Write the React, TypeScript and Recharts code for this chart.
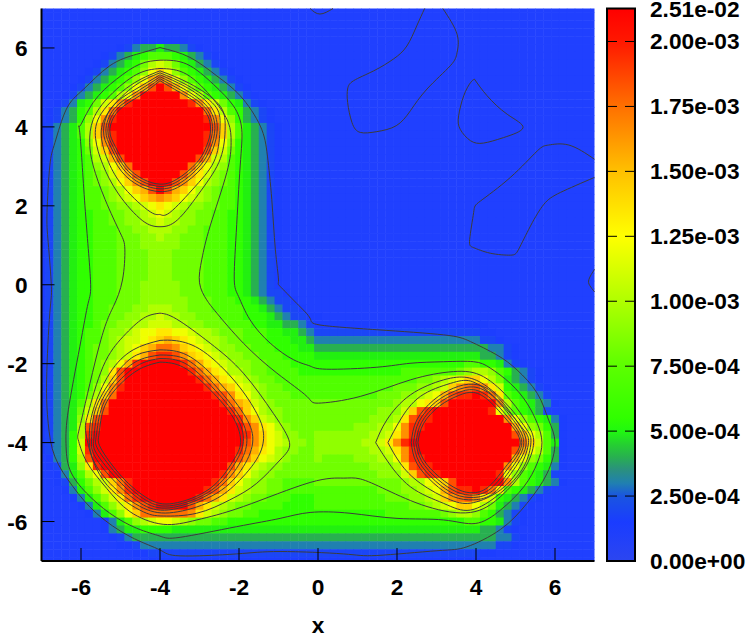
import { Scatter, ScatterChart, XAxis, YAxis, BarChart, Bar, Label } from "recharts";

// one letter per cell, a = 0, b = 1e-4 ... u = 2e-3 and above. Rows run from y=7 down to y=-7, step 0.2
const heatRows = [
  "a",
  "a",
  "a",
  "a",
  "aaaaaaaaaaaabbbbbbb",
  "aaaaaaaaaabcdeefeedcb",
  "aaaaaaaabcdefghhhgfedcb",
  "aaaaaaabcdefgiklkigfedcb",
  "aaaaaabcdefghjmomjhgfedcb",
  "aaaaabcdefghjmprpmjhgfedcb",
  "aaaabcdefghjmpsuspmjhgfedcb",
  "aaabcdefghkmquuuuuqmkhgfedcb",
  "aabcdfgilnqtuuuuuuutqnligfdcb",
  "abcdeghknruuuuuuuuuuurnkhgedcb",
  "abcdegjmqtuuuuuuuuuuutqmjgedcb",
  "bcdefhkosuuuuuuuuuuuuusokhfedcb",
  "bcdefhkortuuuuuuuuuuutrokhfedcb",
  "bcdefgjmqtuuuuuuuuuuutqmjgfedcb",
  "bcdefgilosuuuuuuuuuuusoligfedcb",
  "bcdefghklpsuuuuuuuuusplkhgfedcb",
  "bcdefghjkmoruuuuuuuromkjhgfedcb",
  "bcdefghijlnpsuuuuuspnljihgfedcb",
  "bcdefghijkmoqsuuusqomkjihgfedcb",
  "bcdefghhijkmopsuspomkjihhgfedcb",
  "bcdefghhijklmopqpomlkjihhgfedcb",
  "bcdefghhiijjklmnmlkjjiihhgfedcb",
  "bcdefgghhiijjklmlkjjiihhggfedcb",
  "bcdefgghhiijjkklkkjjiihhggfedcb",
  "bcdefgghhhiijjkkkjjiihhhggfedcb",
  "bcdefgghhhiiijjkjjiiihhhggfedcb",
  "bcdefgghhhiiijjjjjiiihhhggfedcb",
  "bcdefgghhhiiiijjjiiiihhhggfedcb",
  "bcdefgghhhiiiijjjiiiihhhggfedcb",
  "bcdefgghhhiiiijjjiiiihhhggfedcb",
  "bcdefgghhhiiiijjjiiiihhhggfedcb",
  "bcdefgghhhiiijjjjjiiihhhggfedcb",
  "bcdefgghhhiiijjjjjiiihhhggfedccb",
  "bcdefgghhhiiijjjjjjiiihhhggfedccb",
  "bcdefgghhiiijjkkkjjiiihhhhggfedccb",
  "bcdefgghhiijjkklkkjjiiihhhgggfedccbb",
  "bcdefgghiijjkklllkkjjiiihhhggffeedcbbbbbbbbbbbbbbbbbbbbbb",
  "bcdefghhijjklmmnnmmlkkjiiihhhggffedcccccccccccccccccccccbb",
  "bcdefghhijkllmnoponmlkkjiihhhgggffedddddddddddddddddddddccb",
  "bcdefghiijklmoprrqonmlkjjiihhhgggffeeeeeeeeeeeeeeeeeeeeeeddcb",
  "bcdefghiijklnpsttsqonmlkjjiihhhggggfffffffffffffffffffffeedcb",
  "bcdefghijkmptuuuuutrpnmlkjjiihhhgggggggggggggggggggggghhggfdcb",
  "bcdefghijnsuuuuuuuutrpnmkkjiihhhhggggggggggggghhhhhhhijkkjhgedcb",
  "bcdefghikosuuuuuuuuutrpnmlkjiihhhhhhhhhhhhhhhhhhiijklmoomkifedcb",
  "bcdefghjmqtuuuuuuuuuutrpomlkjiihhhhhhhhhhhhhhiiijjkloqrsqnlgfedcb",
  "bcdefgikoruuuuuuuuuuuutsqnmkjiiihhhhhhhhhhhiiijjklmpsttutrnhgfedc",
  "bcdefhknruuuuuuuuuuuuuutrpolkjiiiiiiiiiiiiiiijkkmnosuuuuuuqkhgfedb",
  "bcdefilosuuuuuuuuuuuuuuutromkjjiiiiiiiiiiiijjjlostuuuuuuutmjhgfec",
  "bcdefjnsuuuuuuuuuuuuuuuuutqolkjiiiiiiiiiiijjjknsttuuuuuuuuuqmjhgfdb",
  "bcdefkstuuuuuuuuuuuuuuuuuusqnmkjiiiiiiiijjjkkmqttuuuuuuuuuuupmjigeb",
  "bcdegktuuuuuuuuuuuuuuuuuuutqomljjiijjjjjjjkklnqtuuuuuuuuuuuuspmkheb",
  "bcdegluuuuuuuuuuuuuuuuuuuusqomlkjjijjjjjjkklnqtuuuuuuuuuuuuuurolhfb",
  "bcdegltuuuuuuuuuuuuuuuuuutrpnmkjjiijjjjjjjkklnqtuuuuuuuuuuuuspmkheb",
  "abdegksuuuuuuuuuuuuuuuuuusqomlkjiiijiiiijjjkkmqttuuuuuuuuuuupmjigeb",
  "abcefjntuuuuuuuuuuuuuuuuspnlkjjiiiiiiiiiiijjjknsttuuuuuuuuuqmjhgfdb",
  "aabdfhkmsuuuuuuuuuuuuuutqomkjjiiiiiiiiiiiiijjjlosttuuuuuuutmjhgfec",
  "aabcegiklortuuuuuuuuuutromkjjiihhhhiiiiiiiiiiijkkmnosuuuuuuqkhgfedb",
  "aaabdfhjlnqtuuuuuuuuutspnlkjjiihhhhhhhhhhhhiiijjklmpsttutrnhgfedc",
  "aaaabdfhjlnrtuuuuuuutrpnlkjiihhhggghhhhhhhhhiiijjkloqrsqnlgfedcb",
  "aaaaabdfhjlnqstuuuuspnlkjiihhhhgggghhhhhhhhhhhhiijklmoomkifedcb",
  "aaaaaabdfhjmorrrrrrqnlkjiihhgggggggggggggggghhhhhhhijkkjhgedcb",
  "aaaaaaaabdfhjklmmlkjiihhgggggggggggggggggggggggggggggghhggfdcb",
  "aaaaaaaabdeffgggg" + "fffffffffffffffffffffffffffffffffffffffeedcb",
  "aaaaaaaaabcdeeeeeeeeeeeeeeeeeeeeeeeeeeeeeeeeeeeeeeeeeeeeeeddcb",
  "aaaaaaaaaabbcdddddddddddddddddddddddddddddddddddddddddddddccb",
  "aaaaaaaaaaaabbccccccccccccccccccccccccccccccccccccccccccbb",
  "aaaaaaaaaaaaaabbbbbbbbbbbbbbbbbbbbbbbbbbbbbbbbbbbbbbbbbb",
];

const levelLetters = "abcdefghijklmnopqrstu";
const levelColors = [
  "#2040ff", "#1d3eff", "#1b46f6", "#2080b0", "#28b050", "#22f010", "#30ff00",
  "#50ff00", "#70ff00", "#90ff00", "#b0ff00", "#d0ff00", "#f0ff00", "#ffe800",
  "#ffd000", "#ffb000", "#ff9000", "#ff7000", "#ff5000", "#ff2800", "#ff0000",
];

const xTicks = [-6, -4, -2, 0, 2, 4, 6];
const yTicks = [6, 4, 2, 0, -2, -4, -6];
const corners = [{ x: -7, y: -7 }, { x: 7, y: 7 }];

// contour lines as [x, y]
const outerLine = [[-4,6.01],[-3.24,5.76],[-2.56,5.29],[-1.97,4.79],[-1.46,4.02],[-1.28,3.26],[-1.17,2.16],[-1.08,0.9],[-1,0.12],[-0.96,-0.04],[-0.54,-0.47],[-0.2,-0.85],[0.05,-1.02],[1.49,-1.14],[3.18,-1.27],[3.86,-1.44],[4.53,-1.78],[5.04,-2.16],[5.55,-2.75],[5.84,-3.43],[6,-4],[5.8,-4.78],[5.29,-5.54],[4.62,-6.2],[3.77,-6.64],[3.01,-6.74],[1.49,-6.86],[0.64,-6.82],[-0.96,-6.76],[-2.06,-6.82],[-3.49,-6.87],[-4,-6.72],[-4.76,-6.38],[-5.61,-5.79],[-6.2,-5.12],[-6.66,-4.36],[-6.83,-3.51],[-6.87,-2.41],[-6.79,-0.72],[-6.75,-0.04],[-6.83,1.07],[-6.86,1.83],[-6.79,3.01],[-6.66,3.6],[-6.37,4.45],[-5.94,4.95],[-5.27,5.55],[-4.59,5.84],[-4,6.01]];
const secondLine = [[-4,5.69],[-3.32,5.59],[-2.65,5.08],[-2.14,4.53],[-1.93,3.94],[-1.97,3.01],[-2.07,1.32],[-2.12,0.125],[-2.01,-0.3],[-1.72,-0.89],[-1.21,-1.48],[-0.62,-1.9],[-0.2,-2.06],[0.22,-2.14],[1.49,-2.09],[2.33,-1.99],[3.18,-1.95],[3.94,-1.95],[4.36,-2.11],[4.87,-2.5],[5.29,-3],[5.55,-3.51],[5.67,-4],[5.55,-4.52],[5.21,-5.12],[4.62,-5.71],[3.98,-6.05],[3.18,-5.96],[2,-5.92],[0.81,-5.79],[-0.2,-5.77],[-0.96,-5.92],[-2.06,-6.13],[-3.49,-6.4],[-4,-6.37],[-4.59,-6.17],[-5.27,-5.79],[-5.86,-5.28],[-6.28,-4.69],[-6.38,-4.02],[-6.32,-3.17],[-6.03,-1.57],[-5.82,-0.47],[-5.76,0.125],[-5.9,2],[-6.03,3.85],[-6.03,4.02],[-5.69,4.62],[-5.1,5.21],[-4.51,5.59],[-4,5.69]];
const thirdLine = [[-4,5.48],[-3.32,5.33],[-2.65,4.7],[-2.27,4.11],[-2.2,3.6],[-2.31,2.84],[-2.73,1.49],[-2.94,0.65],[-3,0.05],[-2.82,-0.38],[-2.56,-0.72],[-1.89,-1.48],[-1.04,-2.24],[-0.28,-2.83],[0.01,-3],[1.07,-2.83],[2.34,-2.41],[3.43,-2.2],[4.19,-2.33],[4.87,-2.92],[5.29,-3.51],[5.46,-4],[5.21,-4.69],[4.62,-5.37],[3.86,-5.77],[2.76,-5.62],[1.74,-5.2],[1.07,-4.92],[0.64,-4.9],[-0.2,-5.01],[-1.89,-5.62],[-3.07,-5.96],[-3.92,-6.07],[-4.76,-5.75],[-5.35,-5.16],[-5.86,-4.48],[-6.07,-3.93],[-5.99,-3.43],[-5.52,-1.48],[-5.18,-0.55],[-4.95,0.12],[-4.89,0.9],[-5.01,1.32],[-5.39,2.16],[-5.69,3.01],[-5.78,3.6],[-5.69,4.19],[-5.27,4.79],[-4.59,5.33],[-4,5.48]];

const topPeakLines = [
  [[-4,5.42],[-3.25,5.1],[-2.52,4.58],[-2.35,4],[-2.47,3.2],[-2.95,2.4],[-3.55,1.65],[-4,1.47],[-4.45,1.63],[-5.05,2.3],[-5.45,3.05],[-5.63,3.7],[-5.48,4.35],[-4.75,5.05],[-4,5.42]],
  [[-4,5.37],[-3.3,5.05],[-2.62,4.55],[-2.48,4],[-2.6,3.2],[-3.1,2.5],[-3.75,1.83],[-4,1.78],[-4.25,1.85],[-4.9,2.45],[-5.3,3.1],[-5.48,3.7],[-5.35,4.3],[-4.7,5],[-4,5.37]],
  [[-4,5.32],[-3.36,5.02],[-2.74,4.55],[-2.55,3.97],[-2.66,3.44],[-2.94,2.96],[-3.49,2.5],[-4,2.36],[-4.51,2.5],[-4.98,2.88],[-5.29,3.43],[-5.43,3.9],[-5.22,4.5],[-4.64,4.94],[-4,5.32]],
  [[-4,5.27],[-3.41,4.97],[-2.8,4.51],[-2.61,3.96],[-2.72,3.47],[-2.99,3.01],[-3.52,2.56],[-4,2.43],[-4.48,2.56],[-4.93,2.93],[-5.23,3.46],[-5.37,3.9],[-5.16,4.46],[-4.59,4.89],[-4,5.27]],
  [[-4,5.22],[-3.45,4.92],[-2.85,4.48],[-2.67,3.95],[-2.77,3.5],[-3.03,3.05],[-3.55,2.62],[-4,2.49],[-4.45,2.62],[-4.89,2.97],[-5.18,3.48],[-5.32,3.9],[-5.11,4.43],[-4.55,4.84],[-4,5.22]],
  [[-4,5.17],[-3.49,4.87],[-2.9,4.45],[-2.72,3.94],[-2.82,3.52],[-3.07,3.09],[-3.58,2.67],[-4,2.55],[-4.42,2.67],[-4.85,3.01],[-5.13,3.5],[-5.27,3.9],[-5.06,4.4],[-4.51,4.79],[-4,5.17]],
];
const leftPeakLines = [
  [[-4,-0.72],[-3.58,-0.87],[-2.73,-1.48],[-1.89,-2.24],[-1.13,-3.26],[-0.72,-4],[-0.96,-4.44],[-1.55,-5.03],[-2.23,-5.45],[-3.07,-5.79],[-3.92,-5.86],[-4.51,-5.71],[-5.44,-4.95],[-5.86,-3.85],[-5.82,-3.26],[-5.44,-2.07],[-4.93,-1.31],[-4.42,-0.85],[-4,-0.72]],
  [[-4,-1.41],[-3.58,-1.42],[-2.9,-1.69],[-2.06,-2.5],[-1.55,-3.26],[-1.38,-3.76],[-1.51,-4.35],[-2.06,-5.03],[-2.73,-5.5],[-3.66,-5.77],[-4.42,-5.66],[-5.18,-5.12],[-5.69,-4.44],[-5.79,-3.85],[-5.69,-3.17],[-5.27,-2.24],[-4.68,-1.65],[-4,-1.41]],
  [[-4,-1.65],[-3.32,-1.78],[-2.56,-2.41],[-1.89,-3.26],[-1.65,-3.93],[-1.89,-4.61],[-2.56,-5.28],[-3.66,-5.69],[-4.42,-5.58],[-5.1,-5.03],[-5.65,-4.35],[-5.73,-3.85],[-5.61,-3.09],[-5.1,-2.24],[-4.59,-1.78],[-4,-1.65]],
  [[-4,-1.78],[-3.32,-1.9],[-2.65,-2.5],[-2.01,-3.3],[-1.8,-3.95],[-2.01,-4.57],[-2.65,-5.24],[-3.66,-5.64],[-4.38,-5.52],[-5.06,-4.95],[-5.61,-4.27],[-5.67,-3.85],[-5.52,-3.05],[-5.01,-2.28],[-4.51,-1.9],[-4,-1.78]],
  [[-4,-1.87],[-3.37,-1.99],[-2.69,-2.58],[-2.07,-3.34],[-1.89,-3.97],[-2.1,-4.52],[-2.69,-5.2],[-3.66,-5.59],[-4.34,-5.47],[-5.01,-4.9],[-5.56,-4.19],[-5.61,-3.81],[-5.45,-3.05],[-4.97,-2.37],[-4.46,-1.99],[-4,-1.87]],
  [[-4,-1.96],[-3.41,-2.09],[-2.73,-2.66],[-2.14,-3.38],[-1.96,-4],[-2.16,-4.48],[-2.73,-5.16],[-3.66,-5.54],[-4.3,-5.42],[-4.97,-4.86],[-5.5,-4.14],[-5.54,-3.76],[-5.39,-3.05],[-4.89,-2.41],[-4.42,-2.09],[-4,-1.96]],
];
const rightPeakLines = [
  [[1.46,-4],[1.74,-3.43],[2.34,-2.79],[3.18,-2.41],[3.77,-2.35],[4.28,-2.58],[4.87,-3.13],[5.29,-3.68],[5.39,-4],[5.21,-4.61],[4.62,-5.28],[3.86,-5.71],[3.18,-5.54],[2.34,-5.12],[1.74,-4.44],[1.46,-4]],
  [[1.77,-4],[2.08,-3.43],[2.59,-2.83],[3.35,-2.5],[3.86,-2.44],[4.36,-2.75],[4.87,-3.26],[5.21,-3.68],[5.33,-4],[5.12,-4.61],[4.62,-5.2],[3.94,-5.52],[3.35,-5.45],[2.59,-5.03],[2.08,-4.52],[1.77,-4]],
  [[2.36,-4],[2.5,-3.43],[2.93,-2.92],[3.43,-2.62],[3.94,-2.52],[4.45,-2.75],[4.95,-3.34],[5.27,-4],[4.95,-4.69],[4.45,-5.28],[3.94,-5.45],[3.43,-5.37],[2.93,-5.03],[2.5,-4.52],[2.36,-4]],
  [[2.42,-4],[2.56,-3.46],[2.98,-2.97],[3.47,-2.69],[3.94,-2.59],[4.42,-2.82],[4.9,-3.37],[5.21,-4],[4.9,-4.65],[4.42,-5.22],[3.94,-5.39],[3.47,-5.31],[2.98,-4.98],[2.56,-4.49],[2.42,-4]],
  [[2.48,-4],[2.62,-3.49],[3.03,-3.02],[3.51,-2.75],[3.94,-2.66],[4.38,-2.89],[4.85,-3.41],[5.16,-4],[4.85,-4.6],[4.38,-5.16],[3.94,-5.33],[3.51,-5.25],[3.03,-4.93],[2.62,-4.46],[2.48,-4]],
  [[2.53,-4],[2.67,-3.52],[3.08,-3.07],[3.55,-2.81],[3.94,-2.73],[4.34,-2.95],[4.8,-3.45],[5.12,-4],[4.8,-4.55],[4.34,-5.1],[3.94,-5.27],[3.55,-5.19],[3.08,-4.88],[2.67,-4.43],[2.53,-4]],
];
const blueLines = [
  [[2.7,7],[2.5,6.56],[2.25,6.05],[1.91,5.72],[1.41,5.42],[0.9,5.17],[0.75,4.96],[0.75,4.62],[0.86,4.11],[1.07,3.86],[1.49,3.88],[1.98,4.03],[2.34,4.41],[2.76,4.96],[3.35,5.55],[3.52,5.88],[3.52,6.35],[3.16,7]],
  [[3.96,5.21],[4.28,4.79],[4.79,4.32],[5.19,3.98],[4.7,3.73],[4.19,3.59],[3.86,3.65],[3.6,3.94],[3.56,4.28],[3.69,4.79],[3.86,5.12],[3.96,5.21]],
  [[7,3.18],[6.35,3.54],[5.84,3.54],[5.55,3.39],[4.87,2.72],[4.11,2.12],[3.94,1.83],[3.84,1.15],[3.94,0.94],[4.36,0.8],[4.87,0.75],[5.08,0.9],[5.38,1.49],[5.72,2.04],[6.14,2.34],[7,2.72]],
  [[-0.2,7],[0.05,6.86],[0.38,7]],
  [[7,0.39],[6.86,0.14],[6.88,-0.02],[7,-0.18]],
];

// colour bar: ticks are linear up to 2e-3, the top tick is labelled with the real maximum
const barTop = 2.127e-3;
const barTicks = [0, 2.5e-4, 5e-4, 7.5e-4, 1e-3, 1.25e-3, 1.5e-3, 1.75e-3, 2e-3, barTop];
const barLabels = ["0.00e+00", "2.50e-04", "5.00e-04", "7.50e-04", "1.00e-03", "1.25e-03", "1.50e-03", "1.75e-03", "2.00e-03", "2.51e-02"];
const barStopValues = [0, 1.5e-4, 2.5e-4, 3e-4, 3.5e-4, 4e-4, 4.5e-4, 5e-4, 5.5e-4, 7.5e-4, 1e-3, 1.25e-3, 1.5e-3, 1.75e-3, 2e-3, barTop];
const barStopColors = ["#2c46f0", "#1a3cff", "#1a55e0", "#2080b0", "#2a9080", "#28b050", "#25d030", "#20f810", "#30ff00", "#5cff00", "#b0ff00", "#ffff00", "#ffc000", "#ff7000", "#ff1800", "#ff0000"];

const FONT = "'Liberation Sans', Arial, sans-serif";
const W = 748;
const H = 635;
const CELL = 7.9;
const STEP = 0.2;
const plotMargin = { top: 8.5, right: 153.5, bottom: 74, left: 41.5 };
const barMargin = { top: 8.5, right: 113, bottom: 74, left: 607 };

const cells = heatRows.flatMap((row, r) =>
  row.padEnd(71, "a").split("").map((ch, c) => ({
    x: -7 + c * STEP,
    y: 7 - r * STEP,
    fill: levelColors[levelLetters.indexOf(ch)],
    c,
    r,
  }))
);

const toPoints = (line: number[][]) => line.map(([x, y]) => ({ x, y }));
const allLines = [outerLine, secondLine, thirdLine, ...topPeakLines, ...leftPeakLines, ...rightPeakLines, ...blueLines];

// half cells along the frame, the grid nodes sit on the border
const HeatCell = ({ cx, cy, payload }: any) => {
  const left = payload.c === 0 ? cx : cx - CELL / 2;
  const right = payload.c === 70 ? cx : cx + CELL / 2 + 0.5;
  const top = payload.r === 0 ? cy : cy - CELL / 2;
  const bottom = payload.r === 70 ? cy : cy + CELL / 2 + 0.5;
  return <rect x={left} y={top} width={right - left} height={bottom - top} fill={payload.fill} />;
};

const NoDot = () => null;

const tickText = { fontFamily: FONT, fontWeight: 700, fontSize: 22.7, fill: "#000" };

const BottomTick = ({ x, y, payload }: any) => (
  <g>
    <line x1={x} x2={x} y1={y} y2={y - 13} stroke="#000" />
    <text x={x} y={y + 34} textAnchor="middle" {...tickText}>{payload.value}</text>
  </g>
);
const TopTick = ({ x, y }: any) => <line x1={x} x2={x} y1={y} y2={y + 13} stroke="#000" />;
const LeftTick = ({ x, y, payload }: any) => (
  <g>
    <line x1={x} x2={x + 13} y1={y} y2={y} stroke="#000" />
    <text x={x - 14} y={y + 8} textAnchor="end" {...tickText}>{payload.value}</text>
  </g>
);
const RightTick = ({ x, y }: any) => <line x1={x} x2={x - 13} y1={y} y2={y} stroke="#000" />;

const BarTick = ({ x, y, index }: any) => (
  <g>
    {index > 0 && index < 9 && (
      <>
        <line x1={x} x2={x - 10} y1={y} y2={y} stroke="#000" />
        <line x1={x - 28} x2={x - 18} y1={y} y2={y} stroke="#000" />
      </>
    )}
    <text x={x + 15} y={y + 8} {...tickText}>{barLabels[index]}</text>
  </g>
);

const layer = { position: "absolute", left: 0, top: 0 } as const;
const frameLine = { stroke: "#000", strokeWidth: 2 };

export default function App() {
  return (
    <div style={{ ...layer, width: W, height: H, background: "#fff" }}>
      <div style={layer}>
        <ScatterChart width={W} height={H} margin={plotMargin}>
          <XAxis dataKey="x" type="number" domain={[-7, 7]} hide />
          <YAxis dataKey="y" type="number" domain={[-7, 7]} hide />
          <Scatter data={cells} shape={<HeatCell />} isAnimationActive={false} />
          {allLines.map((line, i) => (
            <Scatter
              key={i} data={toPoints(line)} shape={<NoDot />} lineJointType="natural"
              line={{ stroke: "#3c3c3c", strokeWidth: 1 }} isAnimationActive={false}
            />
          ))}
        </ScatterChart>
      </div>
      {/* axes sit in their own layer so the ticks stay above the cells */}
      <div style={layer}>
        <ScatterChart width={W} height={H} margin={{ top: 8.5, right: 153.5, bottom: 0, left: 0 }}>
          <XAxis
            xAxisId="b" dataKey="x" type="number" domain={[-7, 7]} ticks={xTicks} height={74}
            tick={<BottomTick />} tickLine={false} tickSize={0} tickMargin={0}
            axisLine={frameLine} interval={0}
          >
            <Label value="x" position="insideBottom" offset={2} style={{ ...tickText }} />
          </XAxis>
          <YAxis
            yAxisId="l" dataKey="y" type="number" domain={[-7, 7]} ticks={yTicks} width={41.5}
            tick={<LeftTick />} tickLine={false} tickSize={0} tickMargin={0}
            axisLine={frameLine} interval={0}
          />
          <XAxis
            xAxisId="t" orientation="top" dataKey="x" type="number" domain={[-7, 7]} ticks={xTicks} height={0}
            tick={<TopTick />} tickLine={false} tickSize={0} tickMargin={0}
            axisLine={frameLine} interval={0}
          />
          <YAxis
            yAxisId="r" orientation="right" dataKey="y" type="number" domain={[-7, 7]} ticks={yTicks} width={0}
            tick={<RightTick />} tickLine={false} tickSize={0} tickMargin={0}
            axisLine={frameLine} interval={0}
          />
          <Scatter xAxisId="b" yAxisId="l" data={corners} shape={<NoDot />} isAnimationActive={false} />
          <Scatter xAxisId="t" yAxisId="r" data={corners} shape={<NoDot />} isAnimationActive={false} />
        </ScatterChart>
      </div>
      <div style={layer}>
        <BarChart
          width={W} height={H} data={[{ name: "cb", value: barTop }]}
          margin={barMargin} barCategoryGap={0}
        >
          <defs>
            <linearGradient id="cbGrad" x1="0" y1="1" x2="0" y2="0">
              {barStopValues.map((v, i) => (
                <stop key={i} offset={v / barTop} stopColor={barStopColors[i]} />
              ))}
            </linearGradient>
          </defs>
          <XAxis dataKey="name" hide />
          <YAxis type="number" domain={[0, barTop]} hide />
          <Bar dataKey="value" fill="url(#cbGrad)" stroke="#000" strokeWidth={2} isAnimationActive={false} />
        </BarChart>
      </div>
      <div style={layer}>
        <BarChart
          width={W} height={H} data={[{ name: "cb", value: barTop }]}
          margin={{ ...barMargin, right: 0 }} barCategoryGap={0}
        >
          <XAxis dataKey="name" hide />
          <YAxis
            orientation="right" type="number" domain={[0, barTop]} ticks={barTicks} width={113}
            tick={<BarTick />} tickLine={false} tickSize={0} tickMargin={0} axisLine={false} interval={0}
          />
          <Bar dataKey="value" fill="none" isAnimationActive={false} />
        </BarChart>
      </div>
    </div>
  );
}
